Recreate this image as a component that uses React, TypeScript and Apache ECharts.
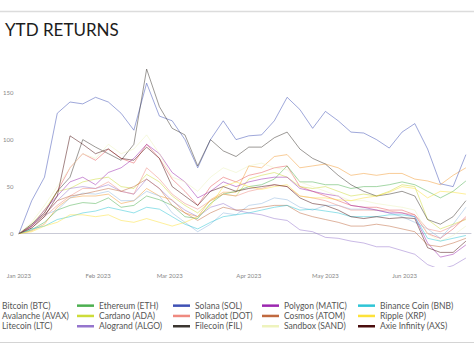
import React, { useEffect, useRef } from "react";
import * as echarts from "echarts";

// day offsets from Jan 1 2023
const days = [0,5,10,15,20,25,30,35,40,45,50,55,60,65,70,75,80,85,90,95,100,105,110,115,120,125,130,135,140,145,150,155,160,165,170,175];

const monthTicks = [0, 31, 59, 90, 120, 151];
const monthLabels = ["Jan 2023", "Feb 2023", "Mar 2023", "Apr 2023", "May 2023", "Jun 2023"];
const yTicks = [0, 50, 100, 150];

const btc = [0,3,10,28,38,40,40,42,32,35,48,40,36,22,18,36,44,44,72,70,82,84,70,72,74,70,62,64,62,64,64,58,56,52,62,70];
const eth = [0,4,12,25,30,33,32,38,28,30,40,36,30,18,16,32,42,45,50,52,58,72,55,55,52,52,48,50,50,52,55,52,45,38,45,56];
const sol = [0,35,60,128,140,138,145,140,128,110,160,125,120,100,70,100,120,100,104,105,120,145,132,112,130,120,108,107,100,91,108,117,90,53,50,84];
const matic = [0,8,25,40,55,60,52,65,70,80,95,85,65,55,38,45,55,50,55,58,60,60,48,45,42,40,30,28,25,22,22,18,-10,-25,-22,-12];
const bnb = [0,5,8,15,18,22,24,28,25,22,28,26,18,10,5,12,18,20,22,25,28,30,25,26,24,22,18,18,18,20,20,18,-5,-8,-5,-2];
const avax = [0,8,22,45,70,85,78,90,80,75,95,80,58,45,30,50,60,55,62,65,70,72,50,45,40,35,30,28,28,25,25,20,0,-5,5,18];
const ada = [0,10,25,45,48,55,58,60,50,48,63,55,40,30,22,35,42,40,58,62,65,60,50,48,50,45,40,42,40,45,52,50,15,5,10,15];
const dot = [0,6,18,30,40,48,48,55,45,42,70,58,42,32,26,35,42,40,45,48,52,50,40,38,35,30,25,25,25,24,22,20,5,2,8,16];
const atom = [0,8,20,35,40,42,45,48,45,50,58,48,30,22,14,22,28,25,26,28,30,30,22,18,15,12,8,8,10,8,5,2,-12,-14,-10,-5];
const xrp = [0,2,8,12,20,20,18,20,14,12,16,12,8,12,18,30,50,55,50,47,50,52,40,38,38,36,35,38,40,44,50,48,38,45,44,42];
const ltc = [0,8,20,25,38,43,42,45,35,35,45,40,22,12,2,10,22,20,30,32,38,36,28,25,30,30,26,26,25,22,18,12,5,-5,10,28];
const algo = [0,8,20,35,48,50,48,52,45,42,58,48,35,25,18,28,32,25,22,20,16,14,4,2,-4,-5,-8,-10,-14,-14,-18,-22,-33,-38,-34,-26];
const fil = [0,10,22,45,60,100,92,85,78,95,175,135,112,105,72,100,88,82,92,92,102,108,90,80,74,62,52,45,40,42,45,40,15,10,18,35];
const sand = [0,12,30,50,70,85,80,95,85,90,105,85,60,55,45,60,70,65,72,75,70,68,55,50,45,40,35,35,32,30,28,25,0,-8,-2,8];
const axs = [0,6,18,40,104,95,85,90,80,78,92,80,50,40,30,45,50,45,48,50,52,50,38,32,30,25,18,16,18,16,17,16,-15,-20,-20,-8];

const seriesDefs: [string, number[], string][] = [
  ["Bitcoin (BTC)", btc, "#f39c34"],
  ["Avalanche (AVAX)", avax, "#e8585a"],
  ["Litecoin (LTC)", ltc, "#8fb8e0"],
  ["Ethereum (ETH)", eth, "#4caf50"],
  ["Cardano (ADA)", ada, "#cddc39"],
  ["Alogrand (ALGO)", algo, "#9575cd"],
  ["Solana (SOL)", sol, "#3f51b5"],
  ["Polkadot (DOT)", dot, "#ef8a80"],
  ["Filecoin (FIL)", fil, "#3b3630"],
  ["Polygon (MATIC)", matic, "#9c27b0"],
  ["Cosmos (ATOM)", atom, "#c0693f"],
  ["Sandbox (SAND)", sand, "#eef3bd"],
  ["Binance Coin (BNB)", bnb, "#2ec5d6"],
  ["Ripple (XRP)", xrp, "#fde23a"],
  ["Axie Infinity (AXS)", axs, "#4a0d0d"],
];

const legendCols = [-20, 77, 173, 262, 358];

export default function App() {
  const ref = useRef<HTMLDivElement>(null);
  useEffect(() => {
    if (!ref.current) return;
    const chart = echarts.init(ref.current, undefined, { renderer: "svg" });
    const font = "Lato, 'Noto Sans', sans-serif";
    const legends = legendCols.map((left, c) => ({
      orient: "vertical" as const,
      left,
      top: 300.5,
      padding: 0,
      icon: "rect",
      itemWidth: 17,
      itemHeight: 2.5,
      itemGap: 0,
      selectedMode: false,
      data: seriesDefs.slice(c * 3, c * 3 + 3).map((s) => s[0]),
      textStyle: { fontSize: 8.5, lineHeight: 10.3, color: "#555", fontFamily: font, padding: [0, 0, 0, 0] },
    }));
    chart.setOption({
      animation: false,
      backgroundColor: "#fff",
      title: {
        text: "YTD RETURNS",
        left: 5,
        top: 21,
        padding: 0,
        textStyle: { fontSize: 17, fontWeight: "normal", color: "#1c1c1c", fontFamily: font },
      },
      graphic: [
        { type: "line", shape: { x1: 0, y1: 11.5, x2: 474, y2: 11.5 }, style: { stroke: "#dcdcdc", lineWidth: 1.5 } },
        { type: "line", shape: { x1: 0, y1: 342.5, x2: 474, y2: 342.5 }, style: { stroke: "#d4d4d4", lineWidth: 1 } },
      ],
      legend: legends,
      grid: { left: 14, right: 3, top: 55, bottom: 88.5 },
      xAxis: {
        type: "value",
        min: 0,
        max: 177,
        axisLine: { onZero: true, lineStyle: { color: "#c9cad6", width: 1 } },
        axisTick: { show: false },
        splitLine: { show: false },
        axisLabel: {
          customValues: monthTicks,
          formatter: (v: number) => monthLabels[monthTicks.indexOf(v)] ?? "",
          fontSize: 6,
          color: "#888",
          fontFamily: font,
          margin: 6,
          hideOverlap: false,
        },
      },
      yAxis: {
        type: "value",
        min: -35,
        max: 190,
        axisLine: { show: false },
        axisTick: { show: false },
        splitLine: { show: false },
        axisLabel: {
          customValues: yTicks,
          fontSize: 6,
          color: "#888",
          fontFamily: font,
          margin: 5.5,
        },
      },
      series: seriesDefs.map(([name, vals, color]) => ({
        name,
        type: "line",
        data: days.map((d, i) => [d, vals[i]]),
        showSymbol: false,
        symbol: "none",
        color,
        lineStyle: { width: 1, opacity: 0.5 },
        emphasis: { disabled: true },
      })),
    });
    return () => chart.dispose();
  }, []);
  return (
    <div
      ref={ref}
      style={{ position: "fixed", left: 0, top: 0, width: 474, height: 355, background: "#fff" }}
    />
  );
}
